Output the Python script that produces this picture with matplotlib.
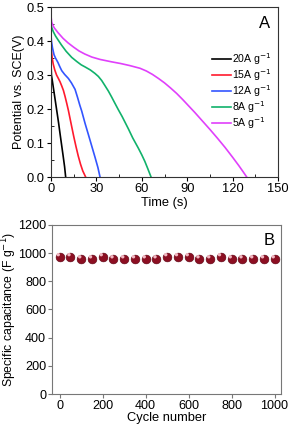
import matplotlib
matplotlib.use("Agg")
import matplotlib.pyplot as plt
import numpy as np

plt.rcParams['font.family'] = ['Liberation Sans', 'DejaVu Sans']

## Data ##
# galvanostatic discharge curves (time in s, potential in V)
t_20 = [0, 0.05, 0.3, 1, 2, 3, 4, 5, 6, 7, 8, 9, 9.7]
v_20 = [0.36, 0.33, 0.30, 0.28, 0.25, 0.22, 0.19, 0.16, 0.127, 0.095, 0.063, 0.03, 0.0]

t_15 = [0, 0.3, 0.8, 1.5, 2.5, 3.7, 5, 6, 7.1, 8.2, 9.3, 10.4, 11.5,
        12.6, 13.7, 15, 16.5, 18, 19.5, 21, 22.9]
v_15 = [0.40, 0.372, 0.35, 0.332, 0.315, 0.30, 0.289, 0.28, 0.268, 0.255, 0.237, 0.217, 0.196,
        0.172, 0.148, 0.12, 0.09, 0.062, 0.038, 0.018, 0.0]

t_12 = [0, 0.3, 1, 2, 3, 4.6, 6, 7.1, 9, 11.5, 13.5, 15.9, 17.5, 19, 20.3,
        22.5, 24.7, 27, 29.1, 31, 32.4]
v_12 = [0.42, 0.40, 0.38, 0.36, 0.35, 0.337, 0.323, 0.313, 0.302, 0.29, 0.277, 0.258, 0.235, 0.212, 0.194,
        0.158, 0.125, 0.09, 0.058, 0.028, 0.0]

t_8 = [0, 0.5, 1.5, 3, 4.9, 7, 10, 13.7, 17, 20, 22.5, 26, 29, 31.3, 33.5, 35.5,
       37.9, 40, 42, 44.5, 47, 51.1, 54, 57.7, 60, 62, 64, 66.1]
v_8 = [0.455, 0.44, 0.428, 0.415, 0.402, 0.388, 0.37, 0.352, 0.34, 0.33, 0.324, 0.315, 0.305, 0.296, 0.284, 0.27,
       0.253, 0.236, 0.219, 0.198, 0.178, 0.142, 0.115, 0.085, 0.065, 0.046, 0.024, 0.0]

t_5 = [0, 0.1, 0.5, 2, 4.6, 8, 11.2, 15, 18.5, 22.3, 27, 32.4, 40, 46, 52, 58.8, 63, 67,
       71, 75, 79, 83, 87, 91, 95, 100, 105, 110, 115, 120, 124, 127, 129.3]
v_5 = [0.5, 0.47, 0.455, 0.44, 0.425, 0.408, 0.395, 0.382, 0.371, 0.362, 0.353, 0.346, 0.339, 0.334, 0.328, 0.32, 0.312, 0.302,
       0.29, 0.277, 0.262, 0.246, 0.228, 0.209, 0.19, 0.165, 0.14, 0.114, 0.087, 0.058, 0.034, 0.015, 0.0]

curve_labels = ['20A g$^{-1}$', '15A g$^{-1}$', '12A g$^{-1}$', '8A g$^{-1}$', '5A g$^{-1}$']
curve_colors = ['black', '#ff1a2e', '#3355ff', '#11b26b', '#e040fb']

# cycling stability
cycles = [0, 50, 100, 150, 200, 250, 300, 350, 400, 450, 500,
          550, 600, 650, 700, 750, 800, 850, 900, 950, 1000]
capacitance = [975, 975, 960, 960, 975, 960, 960, 960, 960, 960, 975,
               975, 975, 960, 960, 975, 960, 960, 960, 960, 960]

## Figure ##
fig = plt.figure(figsize=(2.93, 4.28), dpi=100)

# Panel A
ax1 = fig.add_axes([0.174, 0.5864, 0.775, 0.397])
curves = [(t_20, v_20), (t_15, v_15), (t_12, v_12), (t_8, v_8), (t_5, v_5)]
for (t, v), lab, col in zip(curves, curve_labels, curve_colors):
    ax1.plot(t, v, color=col, lw=1.2, label=lab)
ax1.set_xlim(0, 150)
ax1.set_ylim(0, 0.5)
ax1.set_xticks(np.arange(0, 151, 30))
ax1.set_xticks(np.arange(0, 151, 15), minor=True)
ax1.set_yticks(np.arange(0, 0.51, 0.1))
ax1.set_yticks(np.arange(0, 0.51, 0.05), minor=True)
ax1.set_yticklabels(['0.0', '0.1', '0.2', '0.3', '0.4', '0.5'])
ax1.tick_params(which='major', direction='out', length=3, width=0.8, labelsize=9.3, pad=1.5)
ax1.tick_params(which='minor', direction='in', length=2, width=0.6)
ax1.set_xlabel('Time (s)', fontsize=9.3, labelpad=1)
ax1.set_ylabel('Potential vs. SCE(V)', fontsize=9, labelpad=1)
for s in ax1.spines.values():
    s.set_linewidth(0.8)
    s.set_color('#333333')
leg = ax1.legend(loc='upper right', bbox_to_anchor=(1.0, 0.78), frameon=False,
                 fontsize=7.6, handlelength=1.8, handletextpad=0.1,
                 labelspacing=0.02, borderaxespad=0.2)
ax1.text(0.965, 0.95, 'A', transform=ax1.transAxes, ha='right', va='top', fontsize=12)

# Panel B
ax2 = fig.add_axes([0.1775, 0.0794, 0.78, 0.395])
ax2.scatter(cycles, capacitance, s=40, color='#8c0f22', edgecolor='#5a0010',
            linewidth=0.4, zorder=3)
# highlight to mimic the shaded spheres
ax2.scatter(np.array(cycles) - 6, np.array(capacitance) + 14, s=6,
            color='#f2b8c2', edgecolor='none', zorder=4)
ax2.set_xlim(-35, 1028)
ax2.set_ylim(0, 1200)
ax2.set_xticks(np.arange(0, 1001, 200))
ax2.set_yticks(np.arange(0, 1201, 200))
ax2.tick_params(direction='out', length=3, width=0.8, color='#777777',
                labelsize=9.1, pad=1.2)
ax2.set_xlabel('Cycle number', fontsize=9.3, labelpad=0)
ax2.set_ylabel('Specific capacitance (F g$^{-1}$)', fontsize=8.8)
ax2.yaxis.set_label_coords(-0.146, 0.5)
for s in ax2.spines.values():
    s.set_linewidth(0.8)
    s.set_color('#777777')
ax2.text(0.975, 0.95, 'B', transform=ax2.transAxes, ha='right', va='top', fontsize=12)

plt.savefig('out.png', dpi=100)
plt.close()
